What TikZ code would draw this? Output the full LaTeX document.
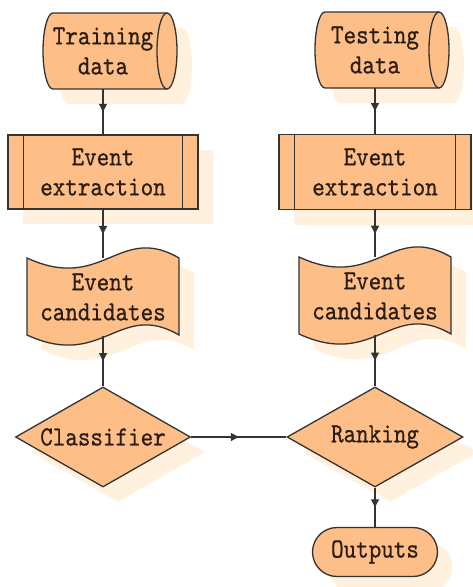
\documentclass[tikz,border=0pt]{standalone}
\usepackage{fontspec}
\newfontfamily\labelfont{lmmono10-regular.otf}[FakeStretch=0.86, FakeBold=0.6]
\usetikzlibrary{shapes.geometric,shapes.misc,arrows.meta,decorations.markings,calc,shadows}

\definecolor{boxfill}{HTML}{FDBE87}
\definecolor{shadowfill}{HTML}{FFF1DE}
\definecolor{edge}{HTML}{333333}
\definecolor{ink}{HTML}{2B1D12}

\tikzset{
  label text/.style={font=\labelfont\fontsize{27.8}{30}\selectfont, text=ink,
    align=center, inner sep=0pt},
  outline/.style={draw=edge, line width=1.3pt},
  box/.style={label text, outline, fill=boxfill},
  shade box/.style={drop shadow={shadow xshift=15pt, shadow yshift=-15pt,
    fill=shadowfill, draw=none, opacity=1}},
  % horizontal drum (stored data)
  drum path/.style={insert path={(-50,-38) -- (64,-38)
    arc[start angle=270, end angle=450, x radius=10, y radius=38]
    -- (-50,38) arc[start angle=90, end angle=270, x radius=10, y radius=38] -- cycle}},
  % wavy tape (document set)
  tape path/.style={insert path={(-76,-39) .. controls (0,-4) and (16,-74) .. (76,-39)
    -- (76,38) .. controls (16,3) and (0,73) .. (-76,38) -- cycle}},
  flow/.style={draw=edge, line width=1.3pt, postaction={decorate},
    decoration={markings, mark=at position 0.5 with {\arrow{Triangle[length=8pt,width=8pt]}}}},
}

\begin{document}
\begin{tikzpicture}[x=1pt, y=-1pt]
\useasboundingbox (0,0) rectangle (473,587);

% text anchors for the drawn-by-hand shapes
\node[label text, minimum width=110, minimum height=76] (train) at (103,51) {Training\\data};
\node[label text, minimum width=110, minimum height=76] (test) at (375,50) {Testing\\data};
\node[label text, minimum width=152, minimum height=77] (cand1) at (103,297) {Event\\candidates};
\node[label text, minimum width=152, minimum height=77] (cand2) at (375,296) {Event\\candidates};

% shadows of drums and tapes
\foreach \n in {train,test} {
  \fill[shadowfill, shift={($(\n.center)+(15,15)$)}, drum path];
}
\foreach \n in {cand1,cand2} {
  \fill[shadowfill, shift={($(\n.center)+(15,15)$)}, tape path];
}

% drums
\foreach \n in {train,test} {
  \path[outline, fill=boxfill, shift={(\n.center)}, drum path];
  \draw[outline, shift={(\n.center)}] (64,-38) arc[start angle=270, end angle=90, x radius=10, y radius=38];
}
% tapes
\foreach \n in {cand1,cand2} {
  \path[outline, fill=boxfill, shift={(\n.center)}, tape path];
}
% redraw text on top of the shapes
\node[label text] at (train) {Training\\data};
\node[label text] at (test) {Testing\\data};
\node[label text] at (cand1) {Event\\candidates};
\node[label text] at (cand2) {Event\\candidates};

% predefined process boxes
\node[box, shade box, minimum width=190, minimum height=74] (ext1) at (103,172) {Event\\extraction};
\node[box, shade box, minimum width=192, minimum height=75] (ext2) at (375,172) {Event\\extraction};
\foreach \n in {ext1,ext2} {
  \draw[outline] ($(\n.north west)+(16,0)$) -- ($(\n.south west)+(16,0)$);
  \draw[outline] ($(\n.north east)+(-16,0)$) -- ($(\n.south east)+(-16,0)$);
}

% decisions
\node[box, shade box, diamond, aspect=1.75, minimum width=175, minimum height=100] (cls) at (103,437) {Classifier};
\node[box, shade box, diamond, aspect=1.75, minimum width=176, minimum height=100] (rank) at (375,437) {Ranking};

% terminal
\node[box, shade box, rounded rectangle, minimum width=125, minimum height=49] (out) at (375,552) {Outputs};

% connectors
\draw[flow] (train) -- (ext1);
\draw[flow] (ext1) -- (cand1);
\draw[flow] (cand1) -- (cls);
\draw[flow] (test) -- (ext2);
\draw[flow] (ext2) -- (cand2);
\draw[flow] (cand2) -- (rank);
\draw[flow] (cls) -- (rank);
\draw[flow] (rank) -- (out);
\end{tikzpicture}
\end{document}
